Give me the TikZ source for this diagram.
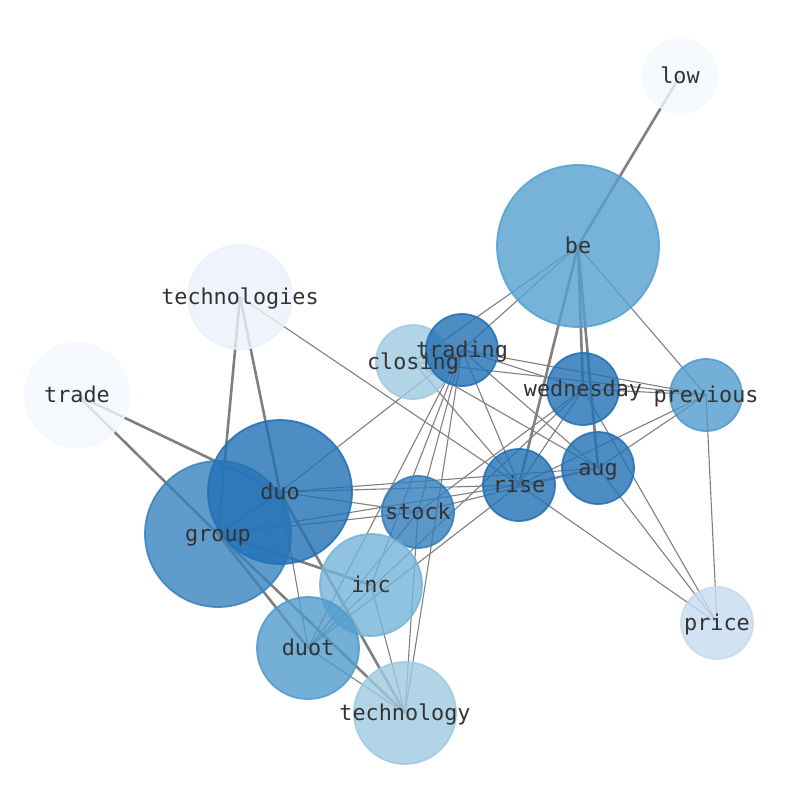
\documentclass[tikz,border=0pt]{standalone}
\usepackage{fontspec}
\newfontfamily\monofnt{DejaVu Sans Mono}
\pgfdeclarelayer{bg}
\pgfdeclarelayer{fg}
\pgfsetlayers{bg,main,fg}
\definecolor{cdark}{RGB}{33,113,181}
\definecolor{cgroup}{RGB}{55,130,190}
\definecolor{cstock}{RGB}{50,125,188}
\definecolor{cbe}{RGB}{86,160,208}
\definecolor{cprev}{RGB}{80,155,205}
\definecolor{cinc}{RGB}{117,180,217}
\definecolor{clight}{RGB}{158,202,225}
\definecolor{cprice}{RGB}{198,219,239}
\definecolor{ctechs}{RGB}{235,241,250}
\definecolor{cpale}{RGB}{244,249,255}
\definecolor{cedge}{RGB}{128,128,128}
\tikzset{
  nd/.style={circle, inner sep=0pt, line width=1.8pt, fill opacity=0.8, draw opacity=0.85, fill=#1, draw=#1},
  thn/.style={draw=cedge, line width=1.1pt},
  thk/.style={draw=cedge, line width=2.6pt},
  lbl/.style={font=\monofnt\fontsize{21.8}{26}\selectfont, text=black!80, inner sep=0pt, text height=17pt, text depth=3pt}
}
\begin{document}
\begin{tikzpicture}[x=1pt,y=-1pt]
\useasboundingbox (0,0) rectangle (794,790);
% nodes
\node[nd=cpale,  minimum size=74pt]  (low)   at (680,76) {};
\node[nd=cbe,    minimum size=162pt] (be)    at (578,246) {};
\node[nd=ctechs, minimum size=104pt] (techs) at (240,297) {};
\node[nd=cpale,  minimum size=104pt] (trade) at (77,395) {};
\node[nd=clight, minimum size=74pt]  (closing) at (413,362) {};
\node[nd=cdark,  minimum size=72pt]  (trading) at (462,350) {};
\node[nd=cdark,  minimum size=72pt]  (wed)   at (583,389) {};
\node[nd=cprev,  minimum size=72pt]  (prev)  at (706,395) {};
\node[nd=cdark,  minimum size=72pt]  (aug)   at (598,468) {};
\node[nd=cdark,  minimum size=72pt]  (rise)  at (519,485) {};
\node[nd=cgroup, minimum size=146pt] (group) at (218,534) {};
\node[nd=cdark,  minimum size=144pt] (duo)   at (280,492) {};
\node[nd=cstock, minimum size=72pt]  (stock) at (418,512) {};
\node[nd=cinc,   minimum size=102pt] (inc)   at (371,585) {};
\node[nd=cprev,  minimum size=102pt] (duot)  at (308,648) {};
\node[nd=cprice, minimum size=72pt]  (price) at (717,623) {};
\node[nd=clight, minimum size=102pt] (tech)  at (405,713) {};
% edges
\begin{pgfonlayer}{bg}
\fill[white] (0,0) rectangle (794,790);
\foreach \a/\b in {low/be, be/rise, be/wed, be/aug, techs/group, techs/duo, trade/duo, trade/group, group/tech, duo/group, group/inc, group/duot, duo/tech}
  \draw[thk] (\a.center) -- (\b.center);
\foreach \a/\b in {be/closing, be/trading, be/prev, techs/rise,
  closing/prev, closing/rise, closing/aug,
  trading/duo, trading/prev, trading/wed, trading/rise, trading/stock, trading/inc, trading/duot, trading/tech, trading/aug,
  wed/prev, wed/rise, wed/stock, wed/duot, wed/price,
  prev/aug, prev/rise, prev/price,
  aug/rise, aug/price, aug/duo, aug/stock,
  rise/price, rise/duo, rise/group, rise/duot,
  stock/duo, stock/group, stock/tech, stock/duot,
  inc/tech, duot/tech, duo/duot}
  \draw[thn] (\a.center) -- (\b.center);
\end{pgfonlayer}
% labels
\begin{pgfonlayer}{fg}
\node[lbl] (low-l) at (low) {low};
\node[lbl] (be-l) at (be) {be};
\node[lbl] (techs-l) at (techs) {technologies};
\node[lbl] (trade-l) at (trade) {trade};
\node[lbl] (closing-l) at (closing) {closing};
\node[lbl] (trading-l) at (trading) {trading};
\node[lbl] (wed-l) at (wed) {wednesday};
\node[lbl] (prev-l) at (prev) {previous};
\node[lbl] (aug-l) at (aug) {aug};
\node[lbl] (rise-l) at (rise) {rise};
\node[lbl] (group-l) at (group) {group};
\node[lbl] (duo-l) at (duo) {duo};
\node[lbl] (stock-l) at (stock) {stock};
\node[lbl] (inc-l) at (inc) {inc};
\node[lbl] (duot-l) at (duot) {duot};
\node[lbl] (price-l) at (price) {price};
\node[lbl] (tech-l) at (tech) {technology};
\end{pgfonlayer}
\end{tikzpicture}
\end{document}
